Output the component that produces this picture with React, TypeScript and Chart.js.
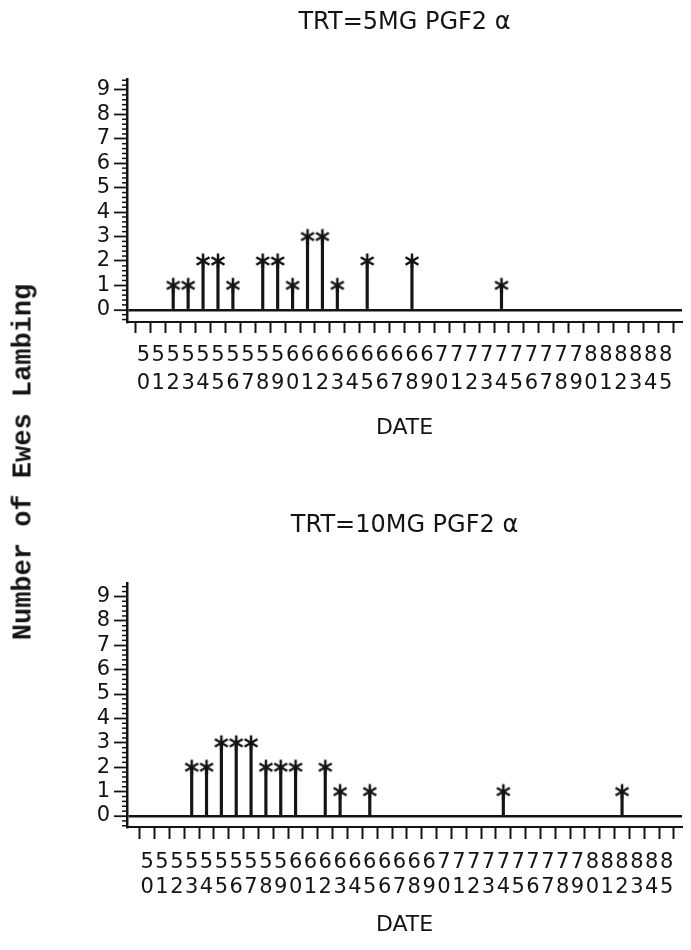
import React, { useEffect, useRef } from "react";
import { Chart, registerables } from "chart.js";

Chart.register(...registerables);

// ---------- data ----------
const DATES = [50, 51, 52, 53, 54, 55, 56, 57, 58, 59, 60, 61, 62, 63, 64, 65, 66, 67, 68, 69, 70, 71, 72, 73, 74, 75, 76, 77, 78, 79, 80, 81, 82, 83, 84, 85];
const Y_TICKS = [0, 1, 2, 3, 4, 5, 6, 7, 8, 9];

const MG5_DATES = [52, 53, 54, 55, 56, 58, 59, 60, 61, 62, 63, 65, 68, 74];
const MG5_COUNTS = [1, 1, 2, 2, 1, 2, 2, 1, 3, 3, 1, 2, 2, 1];

const MG10_DATES = [53, 54, 55, 56, 57, 58, 59, 60, 62, 63, 65, 74, 82];
const MG10_COUNTS = [2, 2, 3, 3, 3, 2, 2, 2, 2, 1, 1, 1, 1];

const TITLE_5MG = "TRT=5MG PGF2 \u03b1";
const TITLE_10MG = "TRT=10MG PGF2 \u03b1";
const X_TITLE = "DATE";
const Y_TITLE = "Number of Ewes Lambing";
const MINOR_STEP = 0.2;

// ---------- style ----------
const INK = "#141414";
const SANS = "'DejaVu Sans', 'Liberation Sans', sans-serif";
const W = 691;
const H = 475;

function makeAsterisk(): HTMLCanvasElement {
  const c = document.createElement("canvas");
  c.width = 18;
  c.height = 18;
  const g = c.getContext("2d")!;
  g.strokeStyle = INK;
  g.lineWidth = 2.5;
  g.lineCap = "butt";
  const r = 7.5;
  [90, 30, 150].forEach((deg) => {
    const a = (deg * Math.PI) / 180;
    g.beginPath();
    g.moveTo(9 - r * Math.cos(a), 9 - r * Math.sin(a));
    g.lineTo(9 + r * Math.cos(a), 9 + r * Math.sin(a));
    g.stroke();
  });
  return c;
}

const minorTicks = {
  id: "minorTicks",
  afterDraw(chart: any) {
    const ys = chart.scales.y;
    const { ctx, chartArea } = chart;
    ctx.save();
    ctx.strokeStyle = INK;
    ctx.lineWidth = 1.5;
    const start = Math.ceil(ys.min / MINOR_STEP);
    const end = Math.floor(ys.max / MINOR_STEP);
    for (let i = start; i <= end; i++) {
      const v = i * MINOR_STEP;
      if (Math.abs(v - Math.round(v)) < 1e-6) continue;
      const py = ys.getPixelForValue(v);
      ctx.beginPath();
      ctx.moveTo(chartArea.left - 5, py);
      ctx.lineTo(chartArea.left, py);
      ctx.stroke();
    }
    ctx.restore();
  },
};

type PanelProps = {
  dates: number[];
  counts: number[];
  title: string;
  xMin: number;
  xMax: number;
  yMin: number;
  yMax: number;
  titlePadTop: number;
  titlePadBottom: number;
  xAxisHeight: number;
  tickLength: number;
  tickPadding: number;
  tickLineHeight: number;
  datePadBottom: number;
  top: number;
};

function Panel(p: PanelProps) {
  const ref = useRef<HTMLCanvasElement>(null);
  useEffect(() => {
    const points = p.dates.map((d, i) => ({ x: d, y: p.counts[i] }));
    const star = makeAsterisk();
    const chart = new Chart(ref.current!, {
      type: "bar",
      data: {
        datasets: [
          {
            type: "scatter",
            data: points,
            pointStyle: star as any,
            pointRadius: 8,
            order: 0,
          } as any,
          {
            type: "bar",
            data: points,
            backgroundColor: INK,
            barThickness: 2.5,
            order: 1,
          } as any,
        ],
      },
      options: {
        responsive: false,
        animation: false,
        devicePixelRatio: 1,
        layout: { padding: 0 },
        plugins: {
          legend: { display: false },
          tooltip: { enabled: false },
          title: {
            display: true,
            text: p.title,
            fullSize: false,
            color: INK,
            font: { family: SANS, size: 24, weight: "normal", lineHeight: 1.2 },
            padding: { top: p.titlePadTop, bottom: p.titlePadBottom },
          },
        },
        scales: {
          x: {
            type: "linear",
            min: p.xMin,
            max: p.xMax,
            afterBuildTicks: (s: any) => {
              s.ticks = DATES.map((v) => ({ value: v }));
            },
            afterFit: (s: any) => {
              s.height = p.xAxisHeight;
              s.paddingLeft = 0;
              s.paddingRight = 0;
            },
            ticks: {
              autoSkip: false,
              maxRotation: 0,
              minRotation: 0,
              padding: p.tickPadding,
              color: INK,
              font: { family: SANS, size: 21, lineHeight: p.tickLineHeight },
              callback: (v: any) => [String(Math.floor(Number(v) / 10)), String(Number(v) % 10)],
            },
            grid: {
              drawOnChartArea: false,
              drawTicks: true,
              tickLength: p.tickLength,
              tickWidth: 2,
              tickColor: INK,
            },
            border: { display: true, color: INK, width: 2 },
            title: {
              display: true,
              text: X_TITLE,
              color: INK,
              font: { family: SANS, size: 22, lineHeight: 1.2 },
              padding: { top: 0, bottom: p.datePadBottom },
            },
          },
          y: {
            type: "linear",
            min: p.yMin,
            max: p.yMax,
            afterBuildTicks: (s: any) => {
              s.ticks = Y_TICKS.map((v) => ({ value: v }));
            },
            afterFit: (s: any) => {
              s.width = 127;
              s.paddingTop = 0;
              s.paddingBottom = 0;
            },
            ticks: {
              autoSkip: false,
              padding: 4,
              color: INK,
              font: { family: SANS, size: 21, lineHeight: 1 },
            },
            grid: {
              drawOnChartArea: true,
              color: (c: any) => (c.tick && c.tick.value === 0 ? INK : "rgba(0,0,0,0)"),
              lineWidth: (c: any) => (c.tick && c.tick.value === 0 ? 2.4 : 1),
              tickLength: 13,
              tickWidth: 1.8,
              tickColor: INK,
            },
            border: { display: true, color: INK, width: 2.5 },
          },
        },
      } as any,
      plugins: [minorTicks],
    });
    return () => chart.destroy();
  }, []);
  return (
    <canvas
      ref={ref}
      width={W}
      height={H}
      style={{ position: "absolute", left: 0, top: p.top, width: W, height: H, display: "block" }}
    />
  );
}

export default function App() {
  return (
    <div
      style={{
        position: "absolute",
        left: 0,
        top: 0,
        width: W,
        height: 950,
        background: "#ffffff",
        overflow: "hidden",
      }}
    >
      <Panel
        dates={MG5_DATES}
        counts={MG5_COUNTS}
        title={TITLE_5MG}
        xMin={49.42}
        xMax={85.58}
        yMin={-0.5}
        yMax={9.45}
        titlePadTop={8}
        titlePadBottom={42.2}
        xAxisHeight={153}
        tickLength={11}
        tickPadding={8}
        tickLineHeight={1.35}
        datePadBottom={34}
        top={0}
      />
      <Panel
        dates={MG10_DATES}
        counts={MG10_COUNTS}
        title={TITLE_10MG}
        xMin={49.16}
        xMax={85.52}
        yMin={-0.45}
        yMax={9.55}
        titlePadTop={36}
        titlePadBottom={43.2}
        xAxisHeight={123}
        tickLength={12}
        tickPadding={11}
        tickLineHeight={1.2}
        datePadBottom={12}
        top={475}
      />
      <div
        style={{
          position: "absolute",
          left: 24,
          top: 462,
          transform: "translate(-50%, -50%) rotate(-90deg)",
          whiteSpace: "nowrap",
          fontFamily: "'Liberation Mono', 'DejaVu Sans Mono', monospace",
          fontWeight: "bold",
          fontSize: 27,
          color: INK,
          lineHeight: 1,
        }}
      >
        {Y_TITLE}
      </div>
    </div>
  );
}
